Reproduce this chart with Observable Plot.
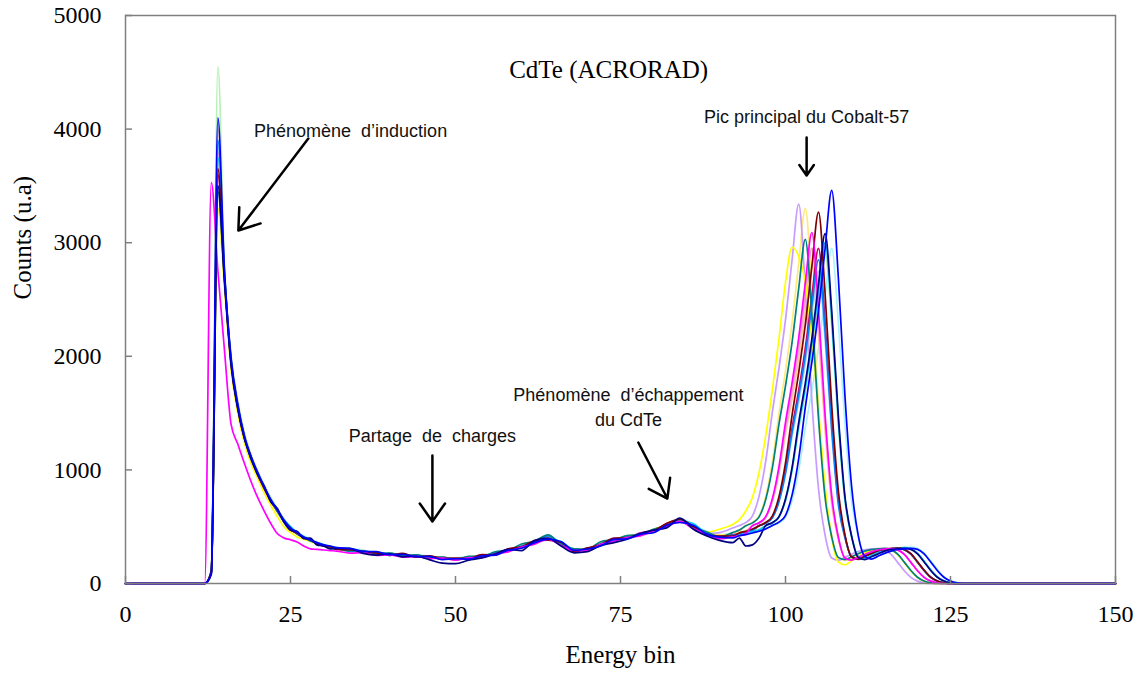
<!DOCTYPE html>
<html><head><meta charset="utf-8">
<script src="https://cdn.jsdelivr.net/npm/d3@7"></script>
<script src="https://cdn.jsdelivr.net/npm/@observablehq/plot@0.6"></script>
<style>body{margin:0;background:#fff}</style>
</head><body><div id="chart"></div>
<script>
// Energy bins (x values shared by all spectra)
const bins = [0,12,13,14,15,16,17,18,19,20,21,22,23,24,25,26,27,28,29,30,31,32,34,36,38,40,42,44,46,48,50,52,54,56,58,60,62,64,66,68,70,72,74,76,78,80,82,84,86,88,90,92,93,94,95,96,97,98,99,100,101,102,103,104,105,106,107,108,109,110,111,112,113,114,115,116,117,118,119,120,121,122,123,124,125,126,127,150];

// Spectra (counts per bin), one array per pixel
const lightcyan = [0, 0,110,3900,2740,1990,1600,1320,1130,990,870,760,660,570,500,455,420,395,365,345,330,315, 310,295,270,268,250,252,240,222,226,236,240,276,290,334,372,390,366,306,296,356,380,418,428,478,500,572,520,462,430,440, 425,440,450,465,485,508,533,583,732,997,1369,1700,2073,2529,2950,2300,1416,738,420,250,225,250,275,295,310,315,320,310,270,200,125,60,25,8,0, 0];
const lightgreen = [0, 0,110,4550,2780,2010,1610,1330,1140,995,870,755,660,565,495,452,415,388,362,342,326,315, 292,290,266,270,248,252,230,232,212,236,238,272,288,332,356,406,346,302,310,340,396,402,444,458,526,544,512,440,425,420, 440,450,460,480,508,532,581,727,987,1352,1676,2041,2487,2900,2262,1392,725,410,245,225,250,275,295,305,312,318,308,268,198,122,60,25,8,0,0, 0];
const lightblue = [0, 0,100,3700,2700,1950,1560,1290,1110,970,845,730,640,552,482,442,406,380,356,336,321,311, 304,276,274,250,258,236,240,218,222,218,248,256,300,316,368,388,358,286,308,338,392,398,440,456,520,542,508,432,428,428, 450,462,478,508,530,576,713,956,1298,1602,1944,2362,2750,2145,1320,688,400,240,222,245,268,290,302,308,312,300,260,190,116,56,22,6,0,0,0, 0];
const peach = [0, 0,120,4000,2760,2000,1600,1320,1130,990,860,745,650,560,490,448,410,385,360,340,325,312, 290,290,262,266,246,250,230,232,212,232,236,270,288,330,354,404,344,300,296,352,378,416,426,472,506,560,494,450,408,438, 450,465,508,531,578,718,966,1316,1627,1976,2404,2800,2184,1344,700,390,228,212,238,262,284,298,305,309,298,258,188,114,55,22,6,0,0,0,0, 0];
const lightyellow = [0, 0,100,3700,2700,1950,1560,1290,1110,965,845,730,640,550,480,440,405,380,355,335,320,310, 302,276,276,250,256,236,240,218,222,218,246,256,300,314,366,386,358,286,310,340,394,398,442,456,520,540,508,432,428,432, 460,509,538,595,765,1068,1493,1872,2297,2818,3300,2574,1584,825,420,225,205,232,258,282,296,304,308,296,256,186,112,54,21,6,0,0,0,0,0, 0];
const pink = [0, 0,100,3800,2720,1960,1570,1295,1115,975,850,735,645,555,485,442,408,382,356,336,320,310, 288,286,262,264,244,248,228,230,210,232,234,268,286,328,352,402,342,298,292,352,378,412,424,470,504,558,492,448,402,432, 440,455,508,533,583,732,997,1369,1700,2073,2529,2950,2300,1416,738,400,225,210,235,260,282,296,304,308,296,256,186,112,54,21,6,0,0,0,0, 0];
const lavender = [0, 0,100,3500,2680,1940,1550,1285,1105,965,840,725,635,548,478,440,402,378,352,332,318,308, 300,272,276,250,256,234,240,218,224,220,250,260,304,318,372,384,356,282,310,344,400,404,446,460,522,540,506,438,448,488, 510,538,596,769,1075,1507,1891,2322,2850,3340,2605,1603,835,425,225,205,232,258,282,296,304,308,296,256,186,112,54,21,6,0,0,0,0,0,0, 0];
const yellow = [0, 0,100,3300,2600,1880,1500,1240,1060,930,800,690,590,500,450,410,390,370,345,330,315,305, 282,282,256,260,238,244,224,228,208,230,234,268,284,326,348,398,338,302,296,356,384,418,432,478,512,552,488,452,478,520, 560,640,760,980,1300,1700,2150,2650,2960,2880,2650,2150,1500,850,400,190,165,200,240,270,290,300,305,295,255,185,110,52,20,5,0,0,0,0,0, 0];
const crimson = [0, 0,100,3600,2680,1940,1550,1285,1105,965,840,728,638,548,478,438,402,378,352,332,318,306, 300,270,274,250,256,232,240,214,222,216,248,254,302,318,372,388,354,282,308,340,396,400,444,460,528,552,506,430,412,428, 435,450,468,508,533,583,732,997,1369,1700,2073,2529,2950,2300,1416,738,420,232,212,238,262,285,298,306,310,298,258,188,114,54,21,6,0,0,0, 0];
const dodger = [0, 0,100,3900,2720,1960,1575,1300,1120,980,855,738,648,558,488,445,408,382,356,336,320,310, 282,288,258,264,240,250,226,228,208,230,234,268,284,330,354,418,344,298,292,350,378,410,426,468,506,556,490,444,398,426, 430,445,470,508,532,579,722,976,1334,1651,2009,2445,2850,2223,1368,713,410,235,215,240,262,285,298,305,310,298,258,188,115,55,22,6,0,0,0, 0];
const cyan = [0, 0,100,3750,2720,1970,1560,1295,1115,975,850,735,645,560,500,445,410,382,358,338,322,312, 300,270,272,248,256,234,240,216,220,216,246,254,298,314,366,392,370,288,306,336,388,396,438,454,512,552,528,438,408,412, 430,440,455,470,508,534,585,737,1007,1387,1725,2106,2570,3000,2340,1440,750,420,240,220,245,270,290,305,310,315,305,265,195,120,58,24,7,0,0, 0];
const teal = [0, 0,100,3450,2680,1960,1570,1300,1100,975,840,735,635,545,490,435,410,375,360,340,315,305, 290,288,262,268,244,252,230,232,212,238,240,278,292,348,372,428,347,306,302,368,387,421,432,476,512,561,497,456,412,448, 470,509,534,586,739,1013,1398,1740,2125,2595,3030,2363,1454,758,410,230,210,236,262,285,298,306,310,298,258,188,114,55,22,6,0,0,0,0,0, 0];
const brown = [0, 0,110,3650,2700,1940,1550,1280,1120,960,840,725,650,545,470,445,400,385,350,330,325,300, 298,278,270,248,266,232,244,220,222,220,254,250,306,322,376,382,364,280,313,342,398,402,436,462,528,567,503,427,418,417, 445,460,480,509,537,594,762,1062,1483,1857,2278,2793,3270,2550,1570,820,430,235,215,240,265,288,300,308,312,300,262,192,118,56,22,6,0,0,0, 0];
const magenta = [0, 0,3530,2750,2050,1400,1230,1060,900,760,640,530,440,400,385,365,330,305,300,295,290,285, 268,272,248,252,232,238,220,224,206,226,229,262,279,321,346,391,334,291,289,344,372,404,419,461,499,546,484,436,394,411, 420,440,509,535,588,745,1025,1419,1769,2163,2644,3090,2410,1483,773,410,225,205,230,255,280,295,302,308,296,256,186,112,54,21,6,0,0,0,0, 0];
const navy = [0, 0,80,3500,2650,1920,1540,1280,1100,960,860,720,660,540,470,460,395,400,340,330,305,310, 310,265,250,262,235,240,210,180,175,205,225,260,300,290,380,400,330,270,280,335,360,390,440,470,490,575,480,420,380,360, 400,330,340,400,509,535,587,744,1023,1416,1764,2157,2636,3080,2400,1480,770,420,230,210,235,260,285,300,305,310,300,260,190,115,55,22,6,0,0, 0];
const blue = [0, 0,90,4100,2750,1980,1580,1300,1120,980,850,740,650,560,490,450,410,385,360,340,330,315, 308,282,280,254,256,237,238,210,218,214,244,250,293,310,360,390,368,292,304,330,388,392,433,447,513,537,513,437,408,402, 420,430,445,460,480,510,540,600,780,1100,1550,1950,2400,2950,3460,2700,1660,865,430,240,215,240,265,285,300,305,310,300,260,190,115,55,22,6,0, 0];

const seriesNames = ["lightcyan","lightgreen","lightblue","peach","lightyellow","pink","lavender","yellow","crimson","dodger","cyan","teal","brown","magenta","navy","blue"];
const seriesValues = [lightcyan,lightgreen,lightblue,peach,lightyellow,pink,lavender,yellow,crimson,dodger,cyan,teal,brown,magenta,navy,blue];
const seriesColors = ["#a8f2ff","#b6f2b6","#99ccff","#ffc999","#ffe97a","#ff99cc","#c99bff","#ffff00","#cc0066","#0080ff","#00c8ff","#008080","#800000","#ff00ff","#000080","#0000ff"];

const xTicks = [0,25,50,75,100,125,150];
const yTicks = [0,1000,2000,3000,4000,5000];

const titleText = "CdTe (ACRORAD)";
const xLabel = "Energy bin";
const yLabel = "Counts (u.a)";

// Annotations (text, anchor in data units)
const notes = [
  {text: "Phénomène  d’induction", x: 34.1, y: 4005},
  {text: "Pic principal du Cobalt-57", x: 103.2, y: 4128},
  {text: "Phénomène  d’échappement\ndu CdTe", x: 76.2, y: 1571},
  {text: "Partage  de  charges", x: 46.5, y: 1312}
];
const arrows = [
  {x1: 27.7, y1: 3917, x2: 17.1, y2: 3107},
  {x1: 103.2, y1: 3926, x2: 103.2, y2: 3592},
  {x1: 46.5, y1: 1127, x2: 46.5, y2: 546},
  {x1: 77.7, y1: 1241, x2: 82.1, y2: 748}
];

const rows = [];
seriesValues.forEach((vals, s) => {
  vals.forEach((v, i) => rows.push({series: seriesNames[s], bin: bins[i], count: v}));
});

const W = 1140, H = 679, mL = 125, mR = 25, mT = 15, mB = 96;
const plotW = W - mL - mR, plotH = H - mT - mB;
const axisGray = "#7f7f7f";
const serif = "'Liberation Serif','Times New Roman',serif";
const sans = "'Liberation Sans',Arial,sans-serif";

const chart = Plot.plot({
  width: W, height: H,
  marginLeft: mL, marginRight: mR, marginTop: mT, marginBottom: mB,
  style: {fontFamily: serif, fontSize: "24px", background: "#fff", color: "#000", overflow: "visible"},
  x: {domain: [0, 150], label: null},
  y: {domain: [0, 5000], label: null},
  color: {domain: seriesNames, range: seriesColors},
  marks: [
    Plot.line(rows, {x: "bin", y: "count", z: "series", stroke: "series", strokeWidth: 1.7, curve: "monotone-x"}),
    Plot.frame({stroke: axisGray, strokeWidth: 1.5}),
    Plot.ruleY(yTicks, {y: d => d, stroke: axisGray, strokeWidth: 1.5, insetRight: plotW - 7}),
    Plot.ruleX(xTicks, {x: d => d, stroke: axisGray, strokeWidth: 1.5, insetTop: plotH - 7}),
    Plot.axisX(xTicks, {tickSize: 0, tickPadding: 21, tickFormat: d => String(d), fontSize: 24, fontFamily: serif, fill: "#000", label: null}),
    Plot.axisY(yTicks, {tickSize: 0, tickPadding: 24, tickFormat: d => String(d), fontSize: 24, fontFamily: serif, fill: "#000", label: null}),
    Plot.text([yLabel], {text: d => d, frameAnchor: "left", rotate: -90, dx: -103, fontSize: 25, fontFamily: serif, fill: "#000"}),
    Plot.text([xLabel], {text: d => d, frameAnchor: "bottom", dy: 79, fontSize: 25, fontFamily: serif, fill: "#000"}),
    Plot.text([titleText], {text: d => d, x: () => 73.2, y: () => 4516, fontSize: 25, fontFamily: serif, fill: "#000"}),
    Plot.text(notes, {x: "x", y: "y", text: "text", fontSize: 18, fontFamily: sans, fill: "#111", lineHeight: 1.39}),
    Plot.arrow(arrows, {x1: "x1", y1: "y1", x2: "x2", y2: "y2", stroke: "#000", strokeWidth: 2.5, headLength: 14, headAngle: 70})
  ]
});
chart.querySelectorAll("text").forEach(t => t.style.whiteSpace = "pre");
document.getElementById("chart").appendChild(chart);
</script>
</body></html>
